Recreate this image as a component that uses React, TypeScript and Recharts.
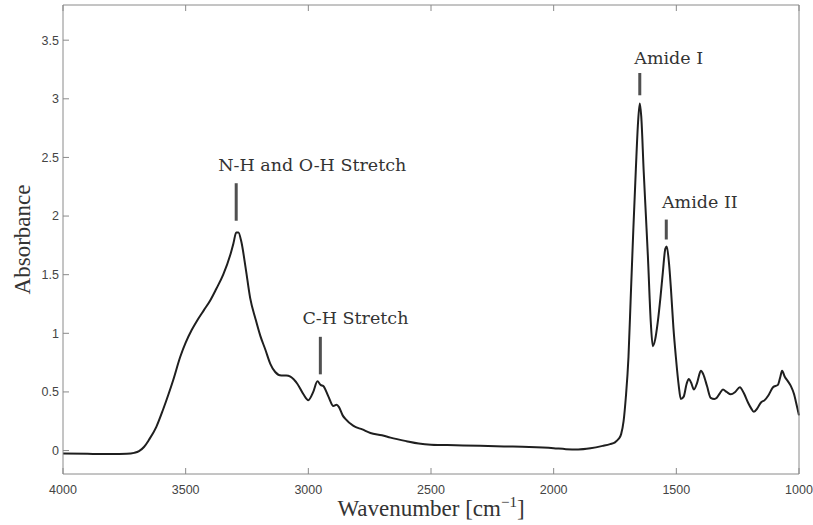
import {
  LineChart,
  Line,
  XAxis,
  YAxis,
  ReferenceLine,
  ReferenceDot,
  Label,
} from "recharts";

// FTIR spectrum, wavenumber in cm^-1 (high to low)
const wavenumbers = [
  4000, 3900, 3800, 3740, 3710, 3690, 3670, 3650, 3620, 3592, 3570, 3551, 3522, 3500,
  3475, 3453, 3425, 3400, 3375, 3347, 3318, 3305, 3294, 3285, 3273, 3255, 3237, 3215,
  3196, 3175, 3155, 3135, 3110, 3090, 3073, 3045, 3020, 3000, 2980, 2963, 2950, 2939,
  2918, 2898, 2885, 2875, 2860, 2849, 2816, 2780, 2747, 2700, 2665, 2600, 2550, 2500,
  2400, 2300, 2200, 2100, 2000, 1950, 1900, 1850, 1800, 1770, 1750, 1735, 1725, 1715,
  1706, 1695, 1686, 1675, 1665, 1656, 1649, 1643, 1633, 1624, 1616, 1604, 1596, 1586,
  1576, 1565, 1555, 1545, 1539, 1530, 1522, 1512, 1502, 1490, 1482, 1470, 1458, 1449,
  1440, 1428, 1415, 1400, 1390, 1375, 1360, 1345, 1335, 1322, 1310, 1295, 1278, 1260,
  1241, 1225, 1208, 1195, 1184, 1170, 1155, 1140, 1125, 1106, 1086, 1076, 1069, 1058,
  1045, 1033, 1020, 1012, 1000,
];

const absorbance = [
  -0.025, -0.028, -0.03, -0.028, -0.02, -0.005, 0.03, 0.09, 0.2, 0.35, 0.48, 0.6, 0.8, 0.92,
  1.03, 1.11, 1.2, 1.28, 1.38, 1.5, 1.67, 1.77, 1.86, 1.86, 1.78, 1.55, 1.3, 1.12,
  0.98, 0.86, 0.74, 0.67, 0.64, 0.64, 0.63, 0.57, 0.48, 0.43, 0.5, 0.59, 0.56, 0.55,
  0.46, 0.38, 0.39, 0.37, 0.3, 0.27, 0.21, 0.18, 0.15, 0.13, 0.11, 0.08, 0.06, 0.05,
  0.045, 0.04, 0.035, 0.03, 0.02, 0.012, 0.01, 0.02, 0.04, 0.055, 0.07, 0.1, 0.14, 0.25,
  0.45, 0.8, 1.3, 1.9, 2.4, 2.8, 2.96, 2.85, 2.38, 2.0, 1.66, 1.09, 0.89, 0.95,
  1.09, 1.3, 1.52, 1.72, 1.74, 1.6, 1.38, 1.05, 0.8, 0.55, 0.44, 0.46, 0.57, 0.61,
  0.58, 0.52, 0.58, 0.68, 0.65, 0.55, 0.45, 0.44, 0.45, 0.49, 0.52, 0.5, 0.48, 0.5,
  0.54, 0.49, 0.41, 0.36, 0.33, 0.36, 0.41, 0.43, 0.47, 0.54, 0.56, 0.63, 0.68, 0.63,
  0.59, 0.55, 0.48, 0.41, 0.3,
];

const xTicks = [1000, 1500, 2000, 2500, 3000, 3500, 4000];
const yTicks = [0, 0.5, 1, 1.5, 2, 2.5, 3, 3.5];

// band assignments: marker bar (x, from, to) and caption anchor (tx, ty)
const bandNames = ["N-H and O-H Stretch", "C-H Stretch", "Amide I", "Amide II"];
const bandX = [3294, 2951, 1649, 1541];
const bandFrom = [1.96, 0.65, 3.03, 1.8];
const bandTo = [2.28, 0.97, 3.22, 1.97];
const captionX = [2984, 2808, 1531, 1404];
const captionY = [2.38, 1.08, 3.3, 2.07];

const spectrum = wavenumbers.map((w, i) => ({ w, a: absorbance[i] }));

const serif = "'Liberation Serif', 'DejaVu Serif', serif";
const captionFont = "'DejaVu Serif', 'Liberation Serif', serif";
const sans = "'Liberation Sans', Arial, sans-serif";
const boxColor = "#8a8a8a";
const tickText = { fontSize: 12.5, fill: "#444", fontFamily: sans };

export default function App() {
  return (
    <div style={{ position: "absolute", left: 0, top: 0, background: "#fff" }}>
      <LineChart
        width={813}
        height={525}
        data={spectrum}
        margin={{ top: 5, right: 14, bottom: 0, left: 0 }}
      >
        <XAxis
          xAxisId="b"
          dataKey="w"
          type="number"
          domain={[1000, 4000]}
          reversed
          ticks={xTicks}
          height={51}
          tickSize={-6}
          tickMargin={17}
          stroke={boxColor}
          tick={tickText}
        >
          <Label
            content={({ viewBox }: any) => (
              <text
                x={viewBox.x + viewBox.width / 2}
                y={viewBox.y + 42}
                textAnchor="middle"
                fontFamily={serif}
                fontSize={23}
                fill="#333"
              >
                Wavenumber [cm
                <tspan dy={-9} fontSize={15}>
                  −1
                </tspan>
                <tspan dy={9}>]</tspan>
              </text>
            )}
          />
        </XAxis>
        <XAxis
          xAxisId="t"
          dataKey="w"
          type="number"
          orientation="top"
          domain={[1000, 4000]}
          reversed
          ticks={xTicks}
          height={1}
          mirror
          tickSize={6}
          stroke={boxColor}
          tickFormatter={() => ""}
        />
        <YAxis
          yAxisId="l"
          type="number"
          domain={[-0.2, 3.8]}
          ticks={yTicks}
          width={63}
          tickSize={-6}
          tickMargin={10}
          stroke={boxColor}
          tick={tickText}
        >
          <Label
            content={({ viewBox }: any) => {
              const cx = viewBox.x + 22;
              const cy = viewBox.y + viewBox.height / 2;
              return (
                <text
                  x={cx}
                  y={cy}
                  transform={`rotate(-90 ${cx} ${cy})`}
                  textAnchor="middle"
                  dominantBaseline="central"
                  fontFamily={serif}
                  fontSize={23}
                  fill="#333"
                >
                  Absorbance
                </text>
              );
            }}
          />
        </YAxis>
        <YAxis
          yAxisId="r"
          type="number"
          orientation="right"
          domain={[-0.2, 3.8]}
          ticks={yTicks}
          width={1}
          mirror
          tickSize={6}
          stroke={boxColor}
          tickFormatter={() => ""}
        />
        <Line
          xAxisId="b"
          yAxisId="l"
          dataKey="a"
          type="monotone"
          stroke="#1f1f1f"
          strokeWidth={2}
          dot={false}
          isAnimationActive={false}
        />
        {bandNames.map((name, i) => (
          <ReferenceLine
            key={`bar-${name}`}
            xAxisId="b"
            yAxisId="l"
            segment={[
              { x: bandX[i], y: bandFrom[i] },
              { x: bandX[i], y: bandTo[i] },
            ]}
            stroke="#505050"
            strokeWidth={3}
          />
        ))}
        {bandNames.map((name, i) => (
          <ReferenceDot
            key={`cap-${name}`}
            xAxisId="b"
            yAxisId="l"
            x={captionX[i]}
            y={captionY[i]}
            r={0}
            shape={(p: any) => (
              <text
                x={p.cx}
                y={p.cy}
                textAnchor="middle"
                fontFamily={captionFont}
                fontSize={17.5}
                fill="#333"
              >
                {name}
              </text>
            )}
          />
        ))}
      </LineChart>
    </div>
  );
}
